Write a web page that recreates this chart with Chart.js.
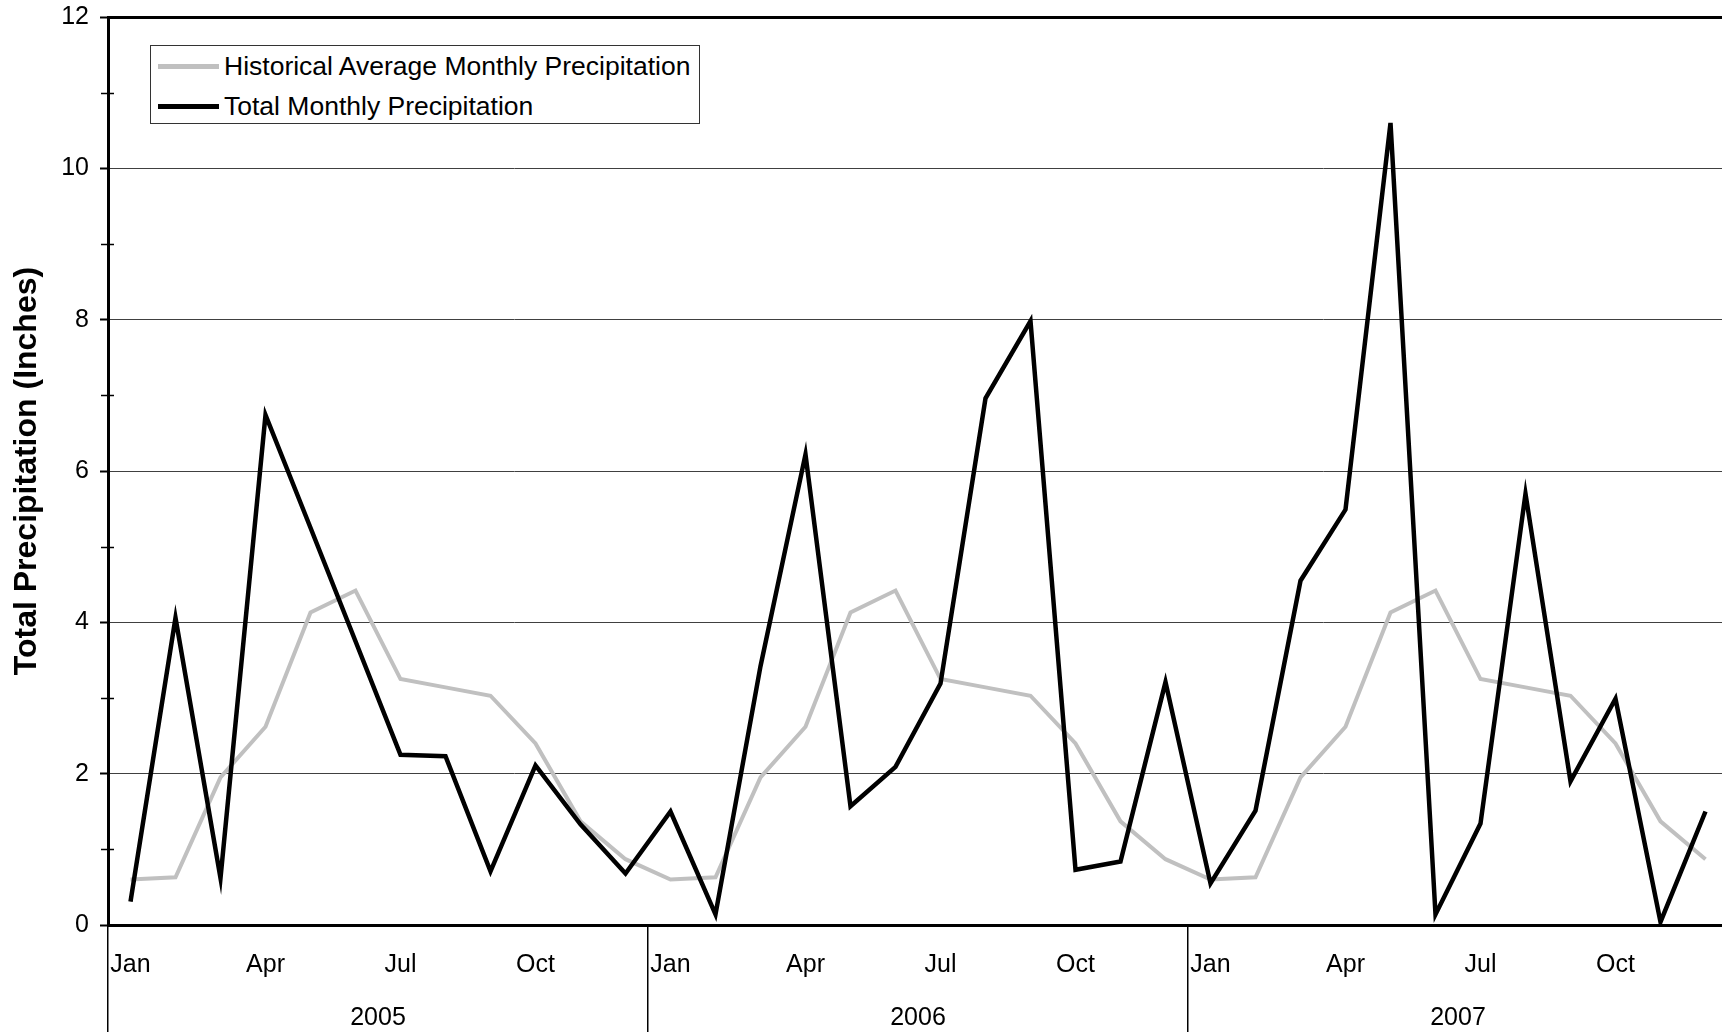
<!DOCTYPE html>
<html>
<head>
<meta charset="utf-8">
<title>Total Monthly Precipitation</title>
<script src="https://cdn.jsdelivr.net/npm/chart.js@4/dist/chart.umd.min.js"></script>
<style>
  html, body { margin: 0; padding: 0; background: #fff; overflow: hidden; }
  #wrap { position: relative; width: 1740px; height: 1032px; }
  #legend {
    position: absolute; left: 150px; top: 45px; width: 548px; height: 77px;
    border: 1px solid #333; background: #fff;
    font-family: "Liberation Sans", Arial, sans-serif; font-size: 26.5px; color: #000;
  }
  .legend-item { position: absolute; left: 0; height: 30px; line-height: 30px; white-space: nowrap; }
  .legend-line { position: absolute; left: 7px; top: 13px; width: 61px; height: 5px; }
  .legend-text { position: absolute; left: 73px; top: 0; }
</style>
</head>
<body>
<div id="wrap">
  <canvas id="chart" width="1740" height="1032"></canvas>
  <div id="legend"></div>
</div>
<script>
// Axis categories
const years  = ['2005', '2006', '2007'];
const months = ['Jan', 'Feb', 'Mar', 'Apr', 'May', 'Jun', 'Jul', 'Aug', 'Sep', 'Oct', 'Nov', 'Dec'];
const shownMonths = ['Jan', 'Apr', 'Jul', 'Oct'];
const categories = years.flatMap(y => months.map(m => `${m} ${y}`));

// Series (inches)
const historicalAvg = [
  0.60, 0.63, 1.95, 2.62, 4.13, 4.42, 3.25, 3.14, 3.03, 2.40, 1.37, 0.87,
  0.60, 0.63, 1.95, 2.62, 4.13, 4.42, 3.25, 3.14, 3.03, 2.40, 1.37, 0.87,
  0.60, 0.63, 1.95, 2.62, 4.13, 4.42, 3.25, 3.14, 3.03, 2.40, 1.37, 0.87,
];
const totalMonthly = [
  0.31, 4.06, 0.62, 6.74, 5.25, 3.75, 2.25, 2.23, 0.71, 2.11, 1.33, 0.68,
  1.50, 0.14, 3.42, 6.22, 1.57, 2.09, 3.19, 6.96, 7.98, 0.73, 0.84, 3.21,
  0.55, 1.51, 4.55, 5.49, 10.60, 0.14, 1.34, 5.70, 1.90, 2.99, 0.04, 1.50,
];

// Y axis
const yMin = 0, yMax = 12, yStep = 2;
const minorTicks = [1, 3, 5, 7, 9, 11];

const FONT = '"Liberation Sans", Arial, sans-serif';

// small minor tick marks crossing the value axis
const minorTickPlugin = {
  id: 'minorTicks',
  afterDraw(chart) {
    const { ctx } = chart;
    const y = chart.scales.y;
    const x0 = chart.chartArea.left;
    ctx.save();
    ctx.strokeStyle = '#000';
    ctx.lineWidth = 1.5;
    minorTicks.forEach(v => {
      const py = Math.round(y.getPixelForValue(v)) + 0.5;
      ctx.beginPath();
      ctx.moveTo(x0 - 7, py);
      ctx.lineTo(x0 + 6, py);
      ctx.stroke();
    });
    ctx.restore();
  },
};

// drop the label overflow padding so the plot box sits where the layout says
const noScalePadding = s => {
  s.paddingTop = 0;
  s.paddingBottom = 0;
  s.paddingLeft = 0;
  s.paddingRight = 0;
};

const chart = new Chart(document.getElementById('chart'), {
  type: 'line',
  data: {
    labels: categories,
    datasets: [
      {
        label: 'Historical Average Monthly Precipitation',
        data: historicalAvg,
        borderColor: '#c0c0c0',
        borderWidth: 4,
        pointRadius: 0,
        tension: 0,
        order: 2,
      },
      {
        label: 'Total Monthly Precipitation',
        data: totalMonthly,
        borderColor: '#000',
        borderWidth: 4.5,
        pointRadius: 0,
        tension: 0,
        order: 1,
      },
    ],
  },
  options: {
    responsive: false,
    animation: false,
    layout: { padding: { top: 17, right: 12, left: 0, bottom: 0 } },
    plugins: {
      legend: { display: false },
      tooltip: { enabled: false },
    },
    scales: {
      x: {
        type: 'category',
        offset: true,
        afterFit: s => { s.height = 54; noScalePadding(s); },
        border: { display: true, color: '#000', width: 3 },
        grid: {
          offset: true,
          drawOnChartArea: false,
          tickLength: 54,
          lineWidth: 1.5,
          color: ctx => (ctx.index % 12 === 0 ? '#000' : 'rgba(0,0,0,0)'),
        },
        ticks: {
          autoSkip: false,
          maxRotation: 0,
          padding: -29,
          color: '#000',
          font: { family: FONT, size: 25 },
          callback(v) {
            const m = this.getLabelForValue(v).split(' ')[0];
            return shownMonths.includes(m) ? m : '';
          },
        },
      },
      year: {
        type: 'category',
        labels: years,
        position: 'bottom',
        offset: true,
        weight: 1,
        afterFit: s => { s.height = 53; noScalePadding(s); },
        border: { display: false },
        grid: {
          offset: true,
          drawOnChartArea: false,
          tickLength: 53,
          lineWidth: 1.5,
          color: '#000',
        },
        ticks: {
          padding: -29,
          color: '#000',
          font: { family: FONT, size: 25 },
        },
      },
      y: {
        min: yMin,
        max: yMax,
        afterFit: s => { s.width = 108; noScalePadding(s); },
        border: { display: true, color: '#000', width: 3 },
        grid: {
          color: ctx => (ctx.tick && (ctx.tick.value === yMin || ctx.tick.value === yMax) ? '#000' : '#404040'),
          lineWidth: ctx => (ctx.tick && (ctx.tick.value === yMin || ctx.tick.value === yMax) ? 3 : 1),
          tickLength: 8,
          tickColor: '#000',
          tickWidth: 2,
        },
        ticks: {
          stepSize: yStep,
          padding: 11,
          color: '#000',
          font: { family: FONT, size: 25 },
        },
        title: {
          display: true,
          text: 'Total Precipitation (Inches)',
          color: '#000',
          font: { family: FONT, size: 32, weight: 'bold' },
          padding: { top: 8, bottom: 0 },
        },
      },
    },
  },
  plugins: [minorTickPlugin],
});

// Legend box inside the plot, listed in dataset order
const legendEl = document.getElementById('legend');
legendEl.innerHTML = chart.data.datasets.map((ds, i) => `
  <div class="legend-item" style="top:${5 + i * 40}px">
    <span class="legend-line" style="background:${ds.borderColor}"></span>
    <span class="legend-text">${ds.label}</span>
  </div>
`).join('');
</script>
</body>
</html>
